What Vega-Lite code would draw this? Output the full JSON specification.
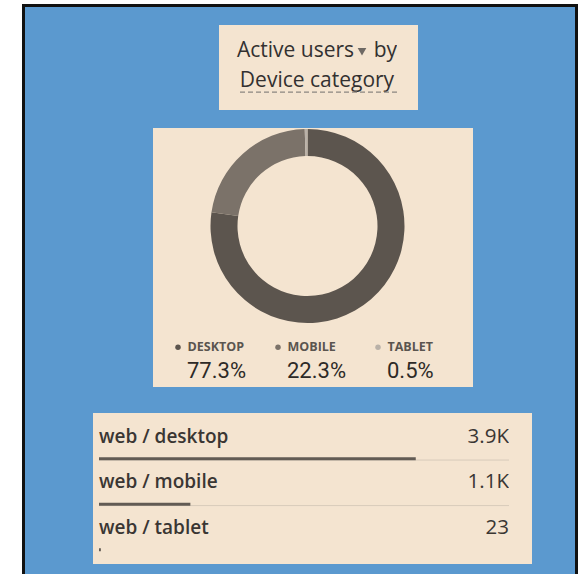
{
  "$schema": "https://vega.github.io/schema/vega-lite/v6.json",
  "background": "#5B99CF",
  "padding": 0,
  "spacing": 0,
  "config": {"view": {"stroke": null}, "concat": {"spacing": 0}},
  "vconcat": [
    {"width": 578, "height": 4, "view": {"fill": "#FFFFFF"}, "data": {"values": []}, "mark": "point", "encoding": {}},
    {
      "spacing": 0,
      "hconcat": [
        {"width": 22, "height": 570, "view": {"fill": "#FFFFFF"}, "data": {"values": []}, "mark": "point", "encoding": {}},
        {"width": 3, "height": 570, "view": {"fill": "#111111"}, "data": {"values": []}, "mark": "point", "encoding": {}},
        {
          "spacing": 0,
          "vconcat": [
            {"width": 550, "height": 3, "view": {"fill": "#111111"}, "data": {"values": []}, "mark": "point", "encoding": {}},
            {"width": 10, "height": 18, "data": {"values": []}, "mark": "point", "encoding": {}},
            {
              "spacing": 0,
              "bounds": "flush",
              "hconcat": [
                {"width": 194, "height": 85, "data": {"values": []}, "mark": "point", "encoding": {}},
                {"width": 18, "height": 85, "view": {"fill": "#F4E4D0"}, "data": {"values": []}, "mark": "point", "encoding": {}},
                {
                  "width": 160,
                  "height": 85,
                  "view": {"fill": "#F4E4D0"},
                  "data": {"values": [
                    {"line": "1", "part": "Active users"},
                    {"line": "1", "part": "▾"},
                    {"line": "1", "part": "by"},
                    {"line": "2", "part": "Device category"}
                  ]},
                  "encoding": {
                    "y": {"field": "line", "type": "ordinal", "sort": null, "scale": {"type": "point", "padding": 0.926, "align": 0.466}, "axis": null}
                  },
                  "layer": [
                    {
                      "transform": [{"filter": "datum.part === 'Active users'"}],
                      "mark": {"type": "text", "align": "left", "dx": -80, "font": "Open Sans", "fontSize": 21, "color": "#333130"},
                      "encoding": {"text": {"field": "part"}}
                    },
                    {
                      "transform": [{"filter": "datum.part === 'by'"}],
                      "mark": {"type": "text", "align": "right", "dx": 80, "font": "Open Sans", "fontSize": 21, "color": "#333130"},
                      "encoding": {"text": {"field": "part"}}
                    },
                    {
                      "transform": [{"filter": "datum.part === '▾'"}],
                      "mark": {"type": "point", "shape": "triangle-down", "filled": true, "size": 75, "opacity": 1, "color": "#6E6964", "xOffset": 45, "yOffset": 1},
                      "encoding": {}
                    },
                    {
                      "transform": [{"filter": "datum.line === '2'"}],
                      "mark": {"type": "text", "font": "Open Sans", "fontSize": 21, "color": "#333130"},
                      "encoding": {"text": {"field": "part"}}
                    },
                    {
                      "transform": [{"filter": "datum.line === '2'"}],
                      "mark": {"type": "rule", "strokeDash": [5, 3], "color": "#8A8580", "strokeWidth": 1.3, "yOffset": 11.5},
                      "encoding": {}
                    }
                  ]
                },
                {"width": 21, "height": 85, "view": {"fill": "#F4E4D0"}, "data": {"values": []}, "mark": "point", "encoding": {}}
              ]
            },
            {"width": 10, "height": 18, "data": {"values": []}, "mark": "point", "encoding": {}},
            {
              "spacing": 0,
              "hconcat": [
                {"width": 128, "height": 259, "data": {"values": []}, "mark": "point", "encoding": {}},
                {
                  "spacing": 0,
                  "vconcat": [
                    {
                      "spacing": 0,
                      "bounds": "flush",
                      "hconcat": [
                        {
                          "width": 309,
                          "height": 196,
                          "view": {"fill": "#F4E4D0"},
                          "data": {"values": [
                            {"device": "DESKTOP", "users": 3900, "rank": 1},
                            {"device": "MOBILE", "users": 1125, "rank": 2},
                            {"device": "TABLET", "users": 23, "rank": 3}
                          ]},
                          "mark": {"type": "arc", "outerRadius": 97, "innerRadius": 70},
                          "encoding": {
                            "theta": {"field": "users", "type": "quantitative", "stack": true},
                            "order": {"field": "rank", "type": "quantitative"},
                            "color": {"field": "device", "type": "nominal", "scale": {"domain": ["DESKTOP", "MOBILE", "TABLET"], "range": ["#5C554E", "#7B7269", "#B9B1A8"]}, "legend": null}
                          }
                        },
                        {"width": 11, "height": 196, "view": {"fill": "#F4E4D0"}, "data": {"values": []}, "mark": "point", "encoding": {}}
                      ]
                    },
                    {
                      "width": 320,
                      "height": 63,
                      "view": {"fill": "#F4E4D0"},
                      "data": {"values": [
                        {"device": "DESKTOP", "pct": "77.3%"},
                        {"device": "MOBILE", "pct": "22.3%"},
                        {"device": "TABLET", "pct": "0.5%"}
                      ]},
                      "encoding": {
                        "x": {"field": "device", "type": "nominal", "sort": null, "scale": {"type": "point", "padding": 0.6}, "axis": null}
                      },
                      "layer": [
                        {
                          "mark": {"type": "circle", "size": 30, "opacity": 1, "xOffset": -35, "yOffset": -8.2},
                          "encoding": {
                            "color": {"field": "device", "type": "nominal", "scale": {"domain": ["DESKTOP", "MOBILE", "TABLET"], "range": ["#4E4842", "#7A746F", "#A9A29B"]}, "legend": null}
                          }
                        },
                        {
                          "mark": {"type": "text", "align": "left", "dx": -25.5, "dy": -8.2, "font": "Open Sans", "fontSize": 12.5, "fontWeight": "bold", "color": "#5A554F"},
                          "encoding": {"text": {"field": "device"}}
                        },
                        {
                          "mark": {"type": "text", "align": "left", "dx": -26, "dy": 15.2, "font": "Roboto", "fontSize": 22, "color": "#2D2A27"},
                          "encoding": {"text": {"field": "pct"}}
                        }
                      ]
                    }
                  ]
                }
              ]
            },
            {"width": 10, "height": 26, "data": {"values": []}, "mark": "point", "encoding": {}},
            {
              "spacing": 0,
              "bounds": "flush",
              "hconcat": [
                {"width": 68, "height": 151, "data": {"values": []}, "mark": "point", "encoding": {}},
                {"width": 6, "height": 151, "view": {"fill": "#F4E4D0"}, "data": {"values": []}, "mark": "point", "encoding": {}},
                {
                  "width": 410,
                  "height": 151,
                  "view": {"fill": "#F4E4D0"},
                  "data": {"values": [
                    {"source": "web / desktop", "users": 3900, "shown": "3.9K"},
                    {"source": "web / mobile", "users": 1125, "shown": "1.1K"},
                    {"source": "web / tablet", "users": 23, "shown": "23"}
                  ]},
                  "layer": [
                    {
                      "transform": [{"filter": "datum.source !== 'web / tablet'"}],
                      "mark": {"type": "rule", "color": "#D8CBBB", "strokeWidth": 1},
                      "encoding": {
                        "y": {"field": "source", "type": "nominal", "sort": null, "bandPosition": 0.875, "scale": {"type": "band", "paddingInner": 0, "paddingOuter": 0.159}, "axis": null}
                      }
                    },
                    {
                      "mark": {"type": "bar", "color": "#625B54", "height": 3, "yOffset": 15.8},
                      "encoding": {
                        "y": {"field": "source", "type": "nominal", "sort": null, "axis": null},
                        "x": {"field": "users", "type": "quantitative", "scale": {"domain": [0, 5048], "nice": false}, "axis": null}
                      }
                    },
                    {
                      "mark": {"type": "text", "align": "left", "font": "Open Sans", "fontSize": 19, "fontWeight": 600, "color": "#3A3633"},
                      "encoding": {
                        "y": {"field": "source", "type": "nominal", "sort": null, "bandPosition": 0.363, "axis": null},
                        "x": {"datum": 0, "type": "quantitative"},
                        "text": {"field": "source"}
                      }
                    },
                    {
                      "mark": {"type": "text", "align": "right", "font": "Open Sans", "fontSize": 20.5, "color": "#3A3633"},
                      "encoding": {
                        "y": {"field": "source", "type": "nominal", "sort": null, "bandPosition": 0.363, "axis": null},
                        "x": {"datum": 5048, "type": "quantitative"},
                        "text": {"field": "shown"}
                      }
                    }
                  ]
                },
                {"width": 23, "height": 151, "view": {"fill": "#F4E4D0"}, "data": {"values": []}, "mark": "point", "encoding": {}}
              ]
            }
          ]
        },
        {"width": 3, "height": 570, "view": {"fill": "#111111"}, "data": {"values": []}, "mark": "point", "encoding": {}}
      ]
    }
  ]
}
